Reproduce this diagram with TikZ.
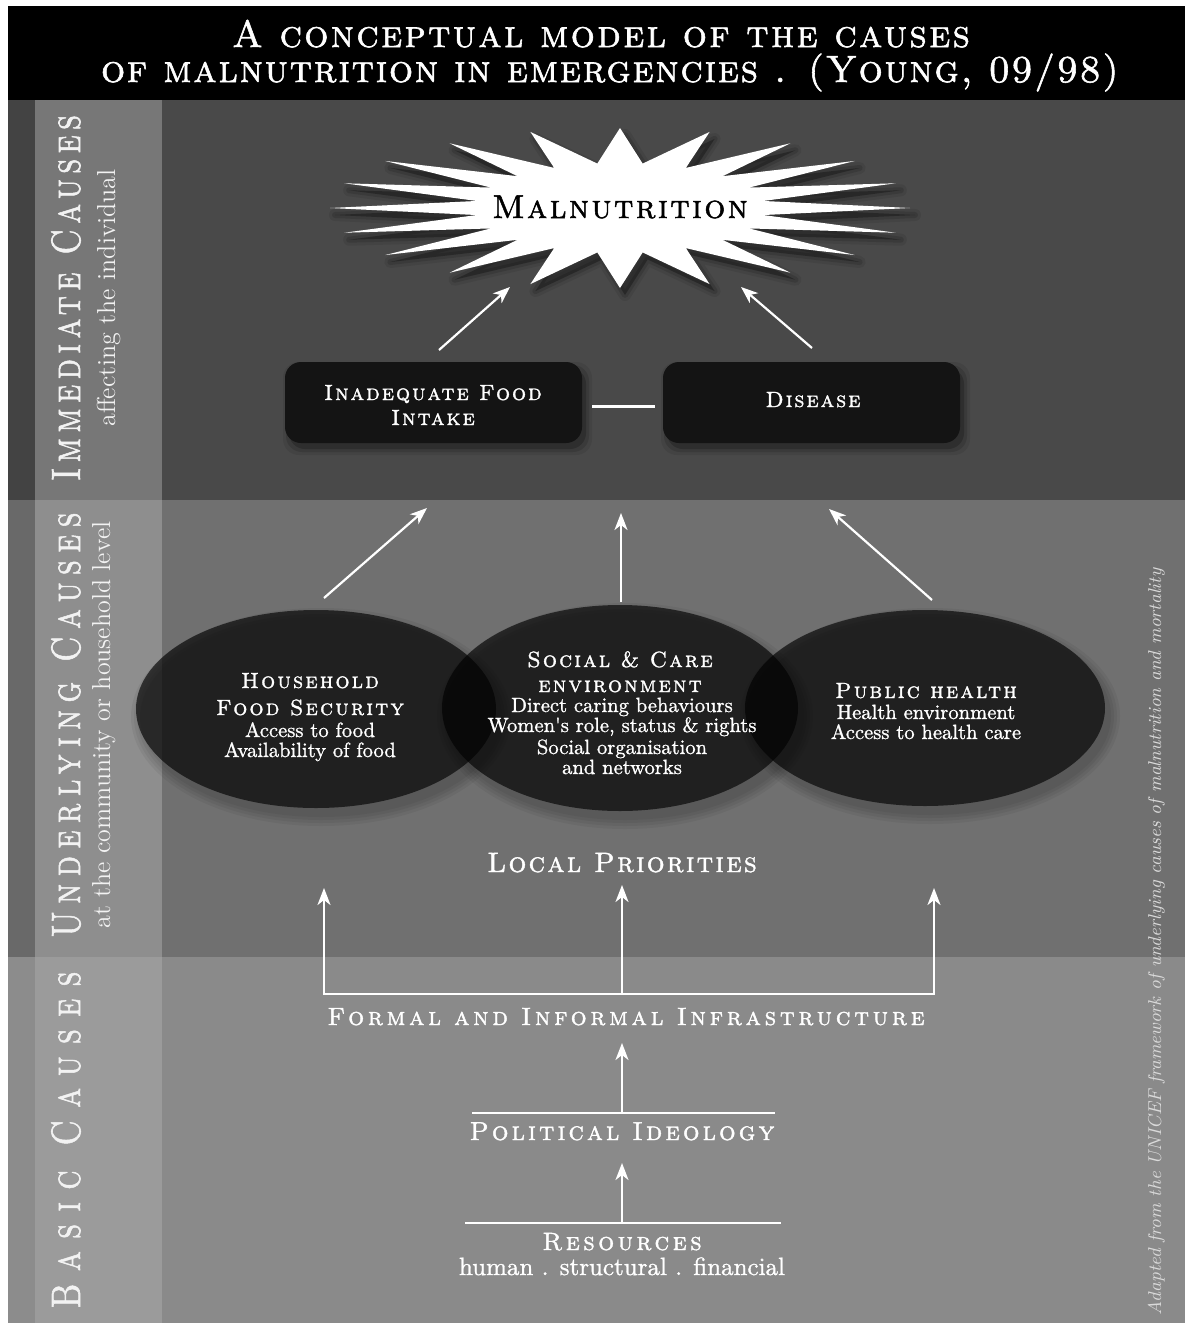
\documentclass[tikz,border=0pt]{standalone}
\usepackage{fontspec}
\usepackage{graphicx}
\usetikzlibrary{arrows.meta,shapes.geometric}
\newfontfamily\capsf{lmromancaps10-regular.otf}[FakeBold=1.5]
\newfontfamily\capslt{lmromancaps10-regular.otf}
\newfontfamily\bodyf{lmroman10-regular.otf}[FakeBold=1.1]
\newcommand\fsc[2]{\fontsize{#1}{#1}\capsf\addfontfeature{LetterSpace=#2}}
\newcommand\fsl[2]{\fontsize{#1}{#1}\capslt\addfontfeature{LetterSpace=#2}}
\newcommand\frm[1]{\fontsize{#1}{#1}\selectfont}
\newcommand\fbd[1]{\fontsize{#1}{#1}\bodyf}
\newcommand\sqz[2]{\scalebox{#1}[1]{#2}}
\definecolor{immM}{HTML}{494949}
\definecolor{immS}{HTML}{434343}
\definecolor{immB}{HTML}{777777}
\definecolor{undM}{HTML}{707070}
\definecolor{undS}{HTML}{696969}
\definecolor{undB}{HTML}{8E8E8E}
\definecolor{basM}{HTML}{8A8A8A}
\definecolor{basS}{HTML}{8C8C8C}
\definecolor{basB}{HTML}{9B9B9B}
\definecolor{boxc}{HTML}{141414}
\definecolor{lblc}{HTML}{F2F2F2}
\definecolor{adc}{HTML}{DADADA}
\begin{document}
\begin{tikzpicture}[x=0.5pt,y=-0.5pt,
  >={Stealth[length=8.5pt,width=6.5pt,inset=2.5pt]},
  arr/.style={white, line width=1.1pt, ->},
  wline/.style={white, line width=1.1pt},
  lbl/.style={anchor=base, inner sep=0pt, text=white},
  rlbl/.style={lbl, rotate=90, text=lblc},
  ell/.style={ellipse, fill=black, fill opacity=0.64, inner sep=0pt},
  box/.style={rounded corners=8pt, fill=boxc, minimum width=148.5pt, minimum height=40.5pt, inner sep=0pt}]
\useasboundingbox (0,0) rectangle (1185,1323);
\fill[white] (0,0) rectangle (1185,1323);
% bands
\fill[black] (8,6) rectangle (1185,100);
\fill[immM] (8,100) rectangle (1185,500);
\fill[immS] (8,100) rectangle (35,500);
\fill[immB] (35,100) rectangle (162,500);
\fill[undM] (8,500) rectangle (1185,957);
\fill[undS] (8,500) rectangle (35,957);
\fill[undB] (35,500) rectangle (162,957);
\fill[basM] (8,957) rectangle (1185,1323);
\fill[basS] (8,957) rectangle (35,1323);
\fill[basB] (35,957) rectangle (162,1323);
% title
\node[lbl, font=\fsc{19}{6}] (t1) at (601,47) {A conceptual model of the causes};
\node[lbl, font=\fsc{19}{4.5}] (t2) at (610,82) {of malnutrition in emergencies . (Young, 09/98)};
% side labels
\node[rlbl, font=\fsc{20.5}{16}] (immL) at (80,298) {\sqz{0.8}{Immediate Causes}};
\node[rlbl, font=\frm{13}] (immS) at (115,298) {affecting the individual};
\node[rlbl, font=\fsc{20.5}{22}] (undL) at (80,725) {\sqz{0.8}{Underlying Causes}};
\node[rlbl, font=\frm{13}] (undS) at (110,725) {at the community or household level};
\node[rlbl, font=\fsc{20.5}{37}] (basL) at (80,1140) {\sqz{0.8}{Basic Causes}};
\node[lbl, rotate=90, text=adc, font=\frm{9.3}\itshape] (adapt) at (1161,942) {Adapted from the UNICEF framework of underlying causes of malnutrition and mortality};
% starburst shadow
\foreach \w/\op in {6/0.08,3/0.12}{
  \draw[black, opacity=\op, line width=\w pt, line join=round, shift={(5,7)}] (910,208)
    \foreach \k in {0,...,19}{ -- ({620+145*cos(18*\k+9)},{208+45*sin(18*\k+9)}) -- ({620+290*cos(18*\k+18)},{208+80*sin(18*\k+18)}) } -- cycle;
}
\fill[black, opacity=0.3, shift={(5,7)}] (910,208)
    \foreach \k in {0,...,19}{ -- ({620+145*cos(18*\k+9)},{208+45*sin(18*\k+9)}) -- ({620+290*cos(18*\k+18)},{208+80*sin(18*\k+18)}) } -- cycle;
\fill[white] (910,208)
    \foreach \k in {0,...,19}{ -- ({620+145*cos(18*\k+9)},{208+45*sin(18*\k+9)}) -- ({620+290*cos(18*\k+18)},{208+80*sin(18*\k+18)}) } -- cycle;
\node[lbl, text=black, font=\fsc{16.5}{7}] (mal) at (620,218) {Malnutrition};
% boxes
\foreach \d/\op in {6/0.08,3/0.12,0/0.2}{
  \fill[black, opacity=\op, rounded corners=8pt] (285-\d+4,362-\d+6) rectangle (582+\d+4,443+\d+6);
  \fill[black, opacity=\op, rounded corners=8pt] (663-\d+4,362-\d+6) rectangle (960+\d+4,443+\d+6);
}
\node[box] (food) at (433.5,402.5) {};
\node[box] (dis) at (811.5,402.5) {};
\node[lbl, font=\fsc{11}{9}] (foodT1) at (433,400) {Inadequate Food};
\node[lbl, font=\fsc{11}{9}] (foodT2) at (433,425) {Intake};
\node[lbl, font=\fsc{11}{9}] (disT) at (813,407) {Disease};
\draw[wline, shorten <=5pt, shorten >=4pt] ([yshift=-2pt]food.east) -- ([yshift=-2pt]dis.west);
\coordinate (fa1) at (439,350); \coordinate (fa2) at (510,287);
\coordinate (da1) at (812,348); \coordinate (da2) at (741,287);
\draw[arr] (fa1) -- (fa2);
\draw[arr] (da1) -- (da2);
% ellipses
\foreach \cx/\cy/\rx/\ry in {316/709/180/99, 620/708/178/103, 925/708/180/98}{
  \foreach \d in {10,7,4,1}{
    \fill[black, opacity=0.05] (\cx+5,\cy+8) ellipse [x radius=\rx+\d, y radius=\ry+\d];
  }
}
\node[ell, minimum width=180pt, minimum height=99pt] (hfs) at (316,709) {};
\node[ell, minimum width=178pt, minimum height=103pt] (sce) at (620,708) {};
\node[ell, minimum width=180pt, minimum height=98pt] (ph) at (925,708) {};
\node[lbl, font=\fsc{11}{10}] (hfs1) at (310,688) {Household};
\node[lbl, font=\fsc{11}{10}] (hfs2) at (310,715) {Food Security};
\node[lbl, font=\fbd{10.3}] (hfs3) at (310,737) {Access to food};
\node[lbl, font=\fbd{10.3}] (hfs4) at (310,757) {Availability of food};
\node[lbl, font=\fsc{11}{10}] (sce1) at (620,667) {Social \& Care};
\node[lbl, font=\fsc{11}{10}] (sce2) at (620,692) {environment};
\node[lbl, font=\fbd{10.3}] (sce3) at (622,712) {Direct caring behaviours};
\node[lbl, font=\fbd{10.3}] (sce4) at (622,732) {Women's role, status \& rights};
\node[lbl, font=\fbd{10.3}] (sce5) at (622,754) {Social organisation};
\node[lbl, font=\fbd{10.3}] (sce6) at (622,774) {and networks};
\node[lbl, font=\fsc{11}{10}] (ph1) at (926,698) {Public health};
\node[lbl, font=\fbd{10.3}] (ph2) at (926,719) {Health environment};
\node[lbl, font=\fbd{10.3}] (ph3) at (926,739) {Access to health care};
% underlying arrows
\coordinate (u1s) at (324,598); \coordinate (u1e) at (427,508);
\coordinate (u2s) at (621,602); \coordinate (u2e) at (621,513);
\coordinate (u3s) at (932,600); \coordinate (u3e) at (829,509);
\draw[arr] (u1s) -- (u1e);
\draw[arr] (u2s) -- (u2e);
\draw[arr] (u3s) -- (u3e);
% basic causes
\node[lbl, font=\fsc{14}{8}] (lp) at (622,872) {Local Priorities};
\coordinate (bL) at (324,994); \coordinate (bM) at (622,994); \coordinate (bR) at (934,994);
\coordinate (tL) at (324,888); \coordinate (tM) at (622,885); \coordinate (tR) at (934,888);
\draw[wline, <->] (tL) -- (bL) -- (bR) -- (tR);
\draw[arr] (bM) -- (tM);
\node[lbl, font=\fsc{12.5}{15}] (fi) at (626,1025) {Formal and Informal Infrastructure};
\coordinate (pL) at (472,1113); \coordinate (pR) at (775,1113);
\coordinate (pM) at (622,1113); \coordinate (pT) at (622,1043);
\draw[wline] (pL) -- (pR);
\draw[arr] (pM) -- (pT);
\node[lbl, font=\fsc{13}{12}] (pi) at (622,1140) {Political Ideology};
\coordinate (rL) at (465,1223); \coordinate (rR) at (781,1223);
\coordinate (rM) at (622,1223); \coordinate (rT) at (622,1163);
\draw[wline] (rL) -- (rR);
\draw[arr] (rM) -- (rT);
\node[lbl, font=\fsc{12.5}{14}] (res) at (622,1250) {Resources};
\node[lbl, font=\fbd{12.5}] (res2) at (622,1275) {human . structural . financial};
\end{tikzpicture}
\end{document}
